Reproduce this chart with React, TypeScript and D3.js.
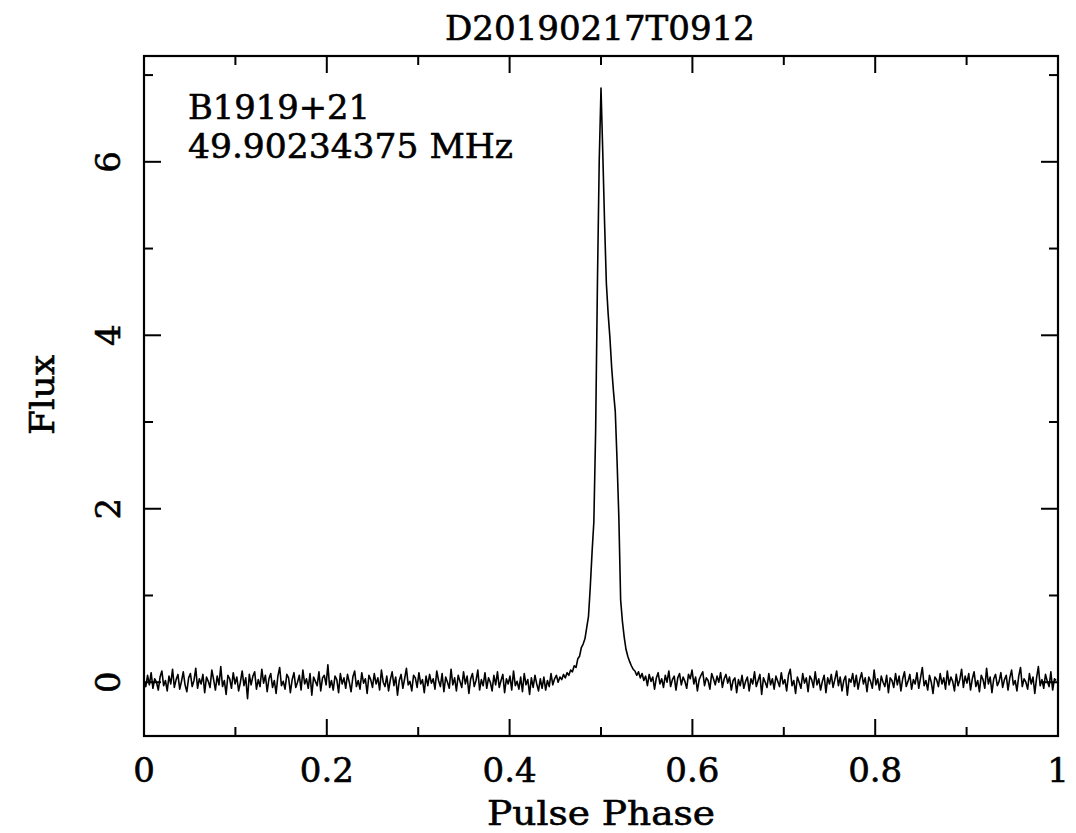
import React from "react";
import * as d3 from "d3";

// ---- data ----
const title = "D20190217T0912";
const sourceName = "B1919+21";
const frequencyLabel = "49.90234375 MHz";
const xLabel = "Pulse Phase";
const yLabel = "Flux";
const xTicksMajor = [0, 0.2, 0.4, 0.6, 0.8, 1];
const xTickLabels = ["0", "0.2", "0.4", "0.6", "0.8", "1"];
const xTicksMinor = [0.1, 0.3, 0.5, 0.7, 0.9];
const yTicksMajor = [0, 2, 4, 6];
const yTickLabels = ["0", "2", "4", "6"];
const yTicksMinor = [1, 3, 5, 7];
const xDomain = [0, 1];
const yDomain = [-0.62, 7.22];

// 512 phase bins of flux
const flux: number[] = [
  // 0-31
  0.02, -0.05, 0.08, -0.03, 0.11, -0.07, 0.04, 0.0, -0.09, 0.06, 0.13, -0.04, 0.02, -0.1, 0.07, -0.02,
  0.15, -0.06, 0.03, 0.09, -0.08, 0.01, 0.12, -0.03, -0.11, 0.05, 0.1, -0.05, 0.02, 0.16, -0.07, 0.04,
  // 32-63
  -0.02, 0.09, -0.12, 0.06, 0.01, -0.06, 0.14, 0.03, -0.09, 0.07, -0.03, 0.18, -0.05, 0.02, -0.14, 0.08,
  0.04, -0.07, 0.11, -0.02, 0.06, -0.1, 0.0, 0.13, -0.04, 0.05, -0.19, 0.09, -0.03, 0.07, 0.12, -0.08,
  // 64-95
  0.03, -0.05, 0.15, -0.01, 0.08, -0.11, 0.04, 0.1, -0.06, 0.02, -0.13, 0.07, 0.17, -0.04, 0.01, -0.08,
  0.09, 0.05, -0.12, 0.03, 0.11, -0.06, 0.0, 0.08, -0.09, 0.14, -0.02, 0.04, -0.07, 0.1, -0.15, 0.06,
  // 96-127
  0.01, -0.04, 0.12, -0.1, 0.05, 0.08, -0.03, 0.2, -0.06, 0.02, -0.09, 0.07, 0.03, -0.12, 0.1, -0.02,
  0.05, -0.07, 0.09, 0.0, -0.11, 0.06, 0.13, -0.05, 0.02, -0.08, 0.11, -0.01, 0.04, -0.13, 0.08, 0.03,
  // 128-159
  -0.06, 0.1, -0.02, 0.05, -0.09, 0.14, 0.0, -0.05, 0.07, -0.1, 0.03, 0.12, -0.04, 0.06, -0.15, 0.02,
  0.09, -0.07, 0.04, 0.16, -0.03, 0.01, -0.1, 0.08, 0.05, -0.06, 0.11, -0.02, 0.03, -0.12, 0.07, -0.04,
  // 160-191
  0.09, -0.01, 0.04, -0.08, 0.13, 0.02, -0.05, 0.1, -0.11, 0.06, 0.0, -0.07, 0.15, -0.03, 0.05, -0.1,
  0.08, 0.01, -0.06, 0.12, -0.02, 0.07, -0.13, 0.04, 0.1, -0.05, 0.02, 0.14, -0.09, 0.03, -0.04, 0.11,
  // 192-223
  -0.07, 0.05, 0.0, -0.1, 0.08, -0.03, 0.12, -0.06, 0.02, 0.09, -0.12, 0.04, -0.02, 0.07, -0.09, 0.13,
  -0.04, 0.01, -0.08, 0.06, -0.11, 0.1, -0.03, 0.03, -0.14, 0.05, -0.06, 0.08, -0.02, -0.1, 0.04, -0.07,
  // 224-255
  0.06, -0.09, 0.02, -0.05, 0.1, -0.03, 0.04, 0.08, 0.0, 0.06, 0.03, 0.09, 0.05, 0.11, 0.08, 0.14,
  0.12, 0.19, 0.17, 0.27, 0.3, 0.4, 0.44, 0.5, 0.63, 0.76, 1.1, 1.5, 1.85, 2.9, 4.6, 6.0,
  // 256-287
  6.85, 6.1, 5.3, 4.6, 4.25, 3.97, 3.62, 3.35, 3.12, 2.55, 1.9, 0.95, 0.7, 0.52, 0.38, 0.3,
  0.24, 0.19, 0.15, 0.13, 0.08, 0.12, 0.05, 0.1, 0.02, 0.07, -0.04, 0.09, 0.01, 0.06, -0.08, 0.05,
  // 288-319
  0.11, -0.02, 0.04, -0.06, 0.08, 0.0, 0.13, -0.05, 0.03, 0.07, -0.09, 0.05, 0.1, -0.03, 0.06, 0.01,
  -0.07, 0.09, 0.04, 0.14, -0.02, 0.06, -0.1, 0.03, 0.08, 0.12, -0.04, 0.05, 0.02, -0.08, 0.1, 0.04,
  // 320-351
  -0.03, 0.07, 0.0, 0.11, -0.06, 0.04, 0.09, -0.01, 0.06, -0.09, 0.02, 0.05, -0.12, 0.03, -0.04, 0.08,
  -0.07, 0.01, 0.06, -0.1, 0.04, -0.02, 0.12, -0.05, 0.02, 0.09, -0.14, 0.05, 0.0, -0.06, 0.1, -0.03,
  // 352-383
  0.04, -0.08, 0.07, 0.01, -0.05, 0.11, -0.02, 0.03, -0.1, 0.08, 0.15, -0.04, 0.02, -0.13, 0.06, 0.0,
  -0.07, 0.1, -0.01, 0.05, -0.11, 0.07, 0.03, -0.06, 0.12, -0.03, 0.04, -0.09, 0.01, 0.08, -0.12, 0.05,
  // 384-415
  -0.02, 0.09, -0.06, 0.03, 0.13, -0.04, 0.06, -0.1, 0.02, 0.07, -0.15, 0.04, 0.0, 0.1, -0.05, 0.08,
  -0.08, 0.03, 0.11, -0.02, 0.05, -0.11, 0.06, 0.01, -0.07, 0.14, -0.03, 0.04, -0.09, 0.07, 0.0, -0.05,
  // 416-447
  0.08, -0.12, 0.05, 0.02, -0.06, 0.1, -0.03, 0.07, -0.1, 0.04, 0.12, -0.05, 0.01, 0.09, -0.08, 0.03,
  -0.02, 0.11, -0.07, 0.05, 0.17, -0.04, 0.02, -0.09, 0.08, 0.0, -0.13, 0.06, 0.03, -0.05, 0.1, -0.02,
  // 448-479
  0.05, -0.08, 0.13, -0.03, 0.06, 0.01, -0.1, 0.09, -0.04, 0.03, 0.15, -0.06, 0.07, -0.01, 0.1, -0.09,
  0.04, 0.12, -0.05, 0.02, -0.11, 0.08, 0.03, -0.07, 0.16, -0.02, 0.06, -0.12, 0.04, 0.09, -0.04, 0.01,
  // 480-511
  0.11, -0.06, 0.03, 0.08, -0.09, 0.05, 0.14, -0.03, 0.02, -0.1, 0.07, 0.17, -0.05, 0.04, 0.0, -0.08,
  0.1, -0.02, 0.06, -0.13, 0.05, 0.18, -0.04, 0.03, -0.07, 0.09, 0.01, -0.05, 0.12, -0.09, 0.04, 0.02,
];

const W = 1076;
const H = 833;
const FONT = "'DejaVu Serif', serif";

export default function App() {
  const left = 144, right = 1058, top = 56, bottom = 736;
  const x = d3.scaleLinear().domain(xDomain).range([left, right]);
  const y = d3.scaleLinear().domain(yDomain).range([bottom, top]);
  const n = flux.length;
  const line = d3
    .line<number>()
    .x((_, i) => x(i / n))
    .y((d) => y(d));

  const majLen = 17;
  const minLen = 9;
  const fs = 34;
  const textProps = { fontSize: fs, fill: "#000", stroke: "#000", strokeWidth: 0.6 };

  return (
    <svg
      width={W}
      height={H}
      style={{ position: "absolute", left: 0, top: 0, background: "#fff" }}
      fontFamily={FONT}
    >
      <rect x={0} y={0} width={W} height={H} fill="#fff" />
      <path d={line(flux) || ""} fill="none" stroke="#000" strokeWidth={1.6} strokeLinejoin="round" />
      {/* frame */}
      <rect x={left} y={top} width={right - left} height={bottom - top} fill="none" stroke="#000" strokeWidth={2.2} />
      {/* x ticks bottom & top */}
      {xTicksMajor.map((t) => (
        <g key={"xM" + t}>
          <line x1={x(t)} x2={x(t)} y1={bottom} y2={bottom - majLen} stroke="#000" strokeWidth={2} />
          <line x1={x(t)} x2={x(t)} y1={top} y2={top + majLen} stroke="#000" strokeWidth={2} />
        </g>
      ))}
      {xTicksMinor.map((t) => (
        <g key={"xm" + t}>
          <line x1={x(t)} x2={x(t)} y1={bottom} y2={bottom - minLen} stroke="#000" strokeWidth={2} />
          <line x1={x(t)} x2={x(t)} y1={top} y2={top + minLen} stroke="#000" strokeWidth={2} />
        </g>
      ))}
      {/* y ticks left & right */}
      {yTicksMajor.map((t) => (
        <g key={"yM" + t}>
          <line x1={left} x2={left + majLen} y1={y(t)} y2={y(t)} stroke="#000" strokeWidth={2} />
          <line x1={right} x2={right - majLen} y1={y(t)} y2={y(t)} stroke="#000" strokeWidth={2} />
        </g>
      ))}
      {yTicksMinor.map((t) => (
        <g key={"ym" + t}>
          <line x1={left} x2={left + minLen} y1={y(t)} y2={y(t)} stroke="#000" strokeWidth={2} />
          <line x1={right} x2={right - minLen} y1={y(t)} y2={y(t)} stroke="#000" strokeWidth={2} />
        </g>
      ))}
      {/* x tick labels */}
      {xTicksMajor.map((t, i) => (
        <text key={"xl" + t} x={x(t)} y={782} textAnchor="middle" {...textProps}>
          {xTickLabels[i]}
        </text>
      ))}
      {/* y tick labels (rotated) */}
      {yTicksMajor.map((t, i) => (
        <text key={"yl" + t} transform={`translate(120,${y(t)}) rotate(-90)`} textAnchor="middle" {...textProps}>
          {yTickLabels[i]}
        </text>
      ))}
      {/* title */}
      <text x={600} y={40} textAnchor="middle" {...textProps} textLength={310} lengthAdjust="spacingAndGlyphs">
        {title}
      </text>
      {/* annotations */}
      <text x={188} y={119} {...textProps} textLength={182} lengthAdjust="spacingAndGlyphs">
        {sourceName}
      </text>
      <text x={188} y={158} {...textProps} textLength={325} lengthAdjust="spacingAndGlyphs">
        {frequencyLabel}
      </text>
      {/* axis labels */}
      <text x={601} y={825} textAnchor="middle" {...textProps} textLength={228} lengthAdjust="spacingAndGlyphs">
        {xLabel}
      </text>
      <text
        transform={`translate(54,395) rotate(-90)`}
        textAnchor="middle"
        {...textProps}
        textLength={80}
        lengthAdjust="spacingAndGlyphs"
      >
        {yLabel}
      </text>
    </svg>
  );
}
